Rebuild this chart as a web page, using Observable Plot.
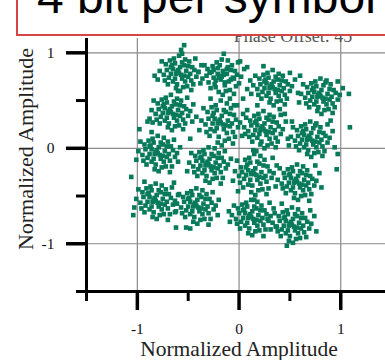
<!DOCTYPE html>
<html><head><meta charset="utf-8">
<script src="https://cdn.jsdelivr.net/npm/d3@7"></script>
<script src="https://cdn.jsdelivr.net/npm/@observablehq/plot@0.6"></script>
<style>
html,body{margin:0;padding:0;background:#fff;overflow:hidden;width:385px;height:360px;}
#wrap{position:relative;width:385px;height:360px;overflow:hidden;}
#wrap svg{position:absolute;left:0;top:0;}
#title{position:absolute;left:16px;top:-40px;width:420px;height:76px;box-sizing:border-box;border:2px solid #d64545;background:#fff;font-family:"Liberation Sans",Arial,sans-serif;font-size:48px;line-height:48px;padding-left:19px;padding-top:11px;color:#000;white-space:nowrap;z-index:2;}
</style></head><body><div id="wrap"><div id="title">4 bit per symbol</div></div>
<script>
const titleText = "4 bit per symbol";
const phaseNote = "Phase Offset: 45";
const axisTitle = "Normalized Amplitude";
const xDomain = [-1.5, 1.44];
const yDomain = [-1.5, 1.15];
const xMajor = [-1, 0, 1];
const xMinor = [-1.5, -0.5, 0.5];
const yMajor = [-1, 0, 1];
const yMinor = [-1.5, -0.5, 0.5];

const clusterA = [[-0.59,0.79],[-0.54,0.76],[-0.65,0.83],[-0.50,0.86],[-0.69,0.74],[-0.56,0.90],[-0.61,0.67],[-0.47,0.71],[-0.72,0.88],[-0.52,0.81],[-0.63,0.73],[-0.58,0.85],[-0.67,0.78],[-0.44,0.82],[-0.74,0.77],[-0.55,0.64],[-0.64,0.94],[-0.49,0.91],[-0.70,0.67],[-0.42,0.75],[-0.60,0.82],[-0.57,0.77],[-0.62,0.78],[-0.53,0.70],[-0.66,0.87],[-0.51,0.65],[-0.68,0.92],[-0.46,0.85],[-0.73,0.71],[-0.59,0.97],[-0.58,0.60],[-0.40,0.80],[-0.78,0.81],[-0.48,0.78],[-0.71,0.82],[-0.54,0.87],[-0.65,0.70],[-0.45,0.67],[-0.63,0.89],[-0.56,0.73],[-0.61,0.80],[-0.50,0.75],[-0.67,0.85],[-0.53,0.93],[-0.62,0.63],[-0.37,0.87],[-0.80,0.72],[-0.43,0.94],[-0.76,0.91],[-0.47,0.61],[-0.57,1.03],[-0.54,1.08],[-0.56,0.99],[-0.83,0.76]];
const clusterB = [[-0.17,0.75],[-0.12,0.78],[-0.23,0.71],[-0.08,0.82],[-0.27,0.80],[-0.14,0.66],[-0.19,0.87],[-0.05,0.73],[-0.30,0.69],[-0.10,0.70],[-0.21,0.78],[-0.16,0.81],[-0.25,0.74],[-0.02,0.77],[-0.32,0.76],[-0.13,0.60],[-0.22,0.90],[-0.07,0.87],[-0.28,0.63],[0.00,0.68],[-0.18,0.72],[-0.15,0.77],[-0.20,0.74],[-0.11,0.85],[-0.24,0.67],[-0.09,0.61],[-0.26,0.86],[-0.04,0.81],[-0.31,0.83],[-0.17,0.93],[-0.16,0.56],[0.02,0.75],[-0.36,0.73],[-0.06,0.74],[-0.29,0.79],[-0.12,0.83],[-0.23,0.64],[-0.03,0.65],[-0.21,0.84],[-0.14,0.69],[-0.19,0.76],[-0.08,0.72],[-0.25,0.82],[-0.11,0.92],[-0.20,0.59],[0.05,0.83],[-0.38,0.68],[-0.01,0.90],[-0.34,0.87],[-0.05,0.57],[-0.15,0.99],[0.08,0.62],[-0.40,0.80],[-0.09,0.52]];
const clusterC = [[0.33,0.64],[0.38,0.61],[0.27,0.68],[0.42,0.71],[0.23,0.59],[0.36,0.75],[0.31,0.52],[0.45,0.56],[0.20,0.73],[0.40,0.66],[0.29,0.58],[0.34,0.70],[0.25,0.63],[0.48,0.67],[0.18,0.62],[0.37,0.49],[0.28,0.79],[0.43,0.76],[0.22,0.52],[0.50,0.60],[0.32,0.67],[0.35,0.62],[0.30,0.63],[0.39,0.55],[0.26,0.72],[0.41,0.50],[0.24,0.77],[0.46,0.70],[0.19,0.56],[0.33,0.82],[0.34,0.45],[0.52,0.65],[0.14,0.66],[0.44,0.63],[0.21,0.67],[0.38,0.72],[0.27,0.55],[0.47,0.52],[0.29,0.74],[0.36,0.58],[0.31,0.65],[0.42,0.60],[0.25,0.70],[0.39,0.78],[0.30,0.48],[0.55,0.72],[0.12,0.57],[0.50,0.79],[0.16,0.76],[0.45,0.46],[0.11,0.71],[0.58,0.58],[0.24,0.86],[0.40,0.41]];
const clusterD = [[0.80,0.55],[0.85,0.52],[0.74,0.59],[0.89,0.62],[0.70,0.50],[0.83,0.66],[0.78,0.43],[0.92,0.47],[0.67,0.64],[0.87,0.57],[0.76,0.49],[0.81,0.61],[0.72,0.54],[0.95,0.58],[0.65,0.53],[0.84,0.40],[0.75,0.70],[0.90,0.67],[0.69,0.43],[0.97,0.51],[0.79,0.58],[0.82,0.53],[0.77,0.54],[0.86,0.46],[0.73,0.63],[0.88,0.41],[0.71,0.68],[0.93,0.61],[0.66,0.47],[0.80,0.73],[0.81,0.36],[0.99,0.56],[0.61,0.57],[0.91,0.54],[0.68,0.58],[0.85,0.69],[0.74,0.46],[0.94,0.43],[0.76,0.65],[0.83,0.49],[0.78,0.56],[0.89,0.51],[0.72,0.61],[0.86,0.71],[0.77,0.39],[1.02,0.63],[0.59,0.48],[0.97,0.70],[0.63,0.67],[0.92,0.37],[1.08,0.57],[1.09,0.22],[0.60,0.76]];
const clusterE = [[-0.67,0.38],[-0.62,0.35],[-0.73,0.42],[-0.58,0.45],[-0.77,0.33],[-0.64,0.49],[-0.69,0.26],[-0.55,0.30],[-0.80,0.47],[-0.60,0.40],[-0.71,0.32],[-0.66,0.44],[-0.75,0.37],[-0.52,0.41],[-0.82,0.36],[-0.63,0.23],[-0.72,0.53],[-0.57,0.50],[-0.78,0.26],[-0.50,0.34],[-0.68,0.41],[-0.65,0.36],[-0.70,0.37],[-0.61,0.29],[-0.74,0.46],[-0.59,0.24],[-0.76,0.51],[-0.54,0.44],[-0.81,0.30],[-0.67,0.56],[-0.66,0.19],[-0.48,0.39],[-0.86,0.40],[-0.56,0.37],[-0.79,0.41],[-0.62,0.46],[-0.73,0.29],[-0.53,0.26],[-0.71,0.48],[-0.64,0.32],[-0.69,0.39],[-0.58,0.34],[-0.75,0.44],[-0.61,0.52],[-0.70,0.22],[-0.45,0.46],[-0.88,0.31],[-0.51,0.53],[-0.84,0.50],[-0.55,0.20],[-0.90,0.28],[-0.60,0.60],[-0.46,0.28],[-0.85,0.27]];
const clusterF = [[-0.18,0.27],[-0.13,0.24],[-0.24,0.31],[-0.09,0.36],[-0.28,0.20],[-0.15,0.40],[-0.20,0.12],[-0.06,0.17],[-0.31,0.38],[-0.11,0.29],[-0.22,0.21],[-0.17,0.34],[-0.26,0.26],[-0.03,0.30],[-0.33,0.25],[-0.14,0.08],[-0.23,0.45],[-0.08,0.42],[-0.29,0.13],[-0.01,0.22],[-0.19,0.30],[-0.16,0.25],[-0.21,0.26],[-0.12,0.16],[-0.25,0.37],[-0.10,0.10],[-0.27,0.43],[-0.05,0.35],[-0.32,0.17],[-0.18,0.50],[-0.17,0.03],[0.01,0.27],[-0.37,0.29],[-0.07,0.26],[-0.30,0.31],[-0.13,0.38],[-0.24,0.18],[-0.04,0.12],[-0.22,0.40],[-0.15,0.20],[-0.20,0.28],[-0.09,0.23],[-0.26,0.34],[-0.12,0.47],[-0.21,0.06],[0.04,0.36],[-0.39,0.19],[-0.02,0.45],[-0.35,0.42],[-0.06,0.05],[-0.42,0.33],[0.06,0.15],[-0.28,0.52]];
const clusterG = [[0.24,0.20],[0.29,0.17],[0.18,0.24],[0.33,0.28],[0.14,0.14],[0.27,0.32],[0.22,0.07],[0.36,0.11],[0.11,0.29],[0.31,0.22],[0.20,0.15],[0.25,0.26],[0.16,0.19],[0.39,0.23],[0.09,0.18],[0.28,0.03],[0.19,0.36],[0.34,0.33],[0.13,0.07],[0.41,0.15],[0.23,0.23],[0.26,0.18],[0.21,0.19],[0.30,0.10],[0.17,0.29],[0.32,0.05],[0.15,0.34],[0.37,0.27],[0.10,0.12],[0.24,0.39],[0.25,0.00],[0.43,0.20],[0.05,0.22],[0.35,0.19],[0.12,0.24],[0.29,0.30],[0.18,0.11],[0.38,0.07],[0.20,0.31],[0.27,0.14],[0.22,0.21],[0.33,0.16],[0.16,0.27],[0.30,0.35],[0.21,0.04],[0.46,0.28],[0.03,0.13],[0.41,0.35],[0.07,0.32],[0.36,0.01],[0.48,0.10],[0.08,0.40],[0.14,-0.02],[0.18,0.45]];
const clusterH = [[0.70,0.10],[0.75,0.07],[0.64,0.14],[0.79,0.17],[0.60,0.05],[0.73,0.21],[0.68,-0.02],[0.82,0.02],[0.57,0.19],[0.77,0.12],[0.66,0.04],[0.71,0.16],[0.62,0.09],[0.85,0.13],[0.55,0.08],[0.74,-0.05],[0.65,0.25],[0.80,0.22],[0.59,-0.02],[0.87,0.06],[0.69,0.13],[0.72,0.08],[0.67,0.09],[0.76,0.01],[0.63,0.18],[0.78,-0.04],[0.61,0.23],[0.83,0.16],[0.56,0.02],[0.70,0.28],[0.71,-0.09],[0.89,0.11],[0.51,0.12],[0.81,0.09],[0.58,0.13],[0.75,0.24],[0.64,0.01],[0.84,-0.03],[0.66,0.20],[0.73,0.04],[0.68,0.11],[0.79,0.06],[0.62,0.16],[0.76,0.26],[0.67,-0.06],[0.92,0.18],[0.49,0.03],[0.87,0.25],[0.53,0.22],[0.82,-0.08],[0.94,0.01],[0.52,0.28],[0.90,0.29],[0.97,-0.06]];
const clusterI = [[-0.80,-0.05],[-0.75,-0.08],[-0.86,-0.01],[-0.71,0.02],[-0.90,-0.10],[-0.77,0.06],[-0.82,-0.17],[-0.68,-0.13],[-0.93,0.04],[-0.73,-0.03],[-0.84,-0.11],[-0.79,0.01],[-0.88,-0.06],[-0.65,-0.02],[-0.95,-0.07],[-0.76,-0.20],[-0.85,0.10],[-0.70,0.07],[-0.91,-0.17],[-0.63,-0.09],[-0.81,-0.02],[-0.78,-0.07],[-0.83,-0.06],[-0.74,-0.14],[-0.87,0.03],[-0.72,-0.19],[-0.89,0.08],[-0.67,0.02],[-0.94,-0.13],[-0.80,0.13],[-0.79,-0.24],[-0.61,-0.05],[-0.99,-0.03],[-0.69,-0.06],[-0.92,-0.01],[-0.75,0.04],[-0.86,-0.14],[-0.66,-0.19],[-0.84,0.06],[-0.77,-0.11],[-0.82,-0.04],[-0.71,-0.09],[-0.88,0.02],[-0.74,0.11],[-0.83,-0.22],[-0.58,0.01],[-1.01,-0.12],[-0.64,0.09],[-0.97,0.07],[-0.68,-0.25],[-0.86,0.17],[-0.60,-0.14]];
const clusterJ = [[-0.30,-0.17],[-0.25,-0.20],[-0.36,-0.13],[-0.21,-0.10],[-0.40,-0.22],[-0.27,-0.06],[-0.32,-0.29],[-0.18,-0.25],[-0.43,-0.08],[-0.23,-0.15],[-0.34,-0.23],[-0.29,-0.11],[-0.38,-0.18],[-0.15,-0.14],[-0.45,-0.19],[-0.26,-0.32],[-0.35,-0.02],[-0.20,-0.05],[-0.41,-0.29],[-0.13,-0.21],[-0.31,-0.14],[-0.28,-0.19],[-0.33,-0.18],[-0.24,-0.26],[-0.37,-0.09],[-0.22,-0.31],[-0.39,-0.04],[-0.17,-0.10],[-0.44,-0.25],[-0.30,0.01],[-0.29,-0.36],[-0.11,-0.17],[-0.49,-0.15],[-0.19,-0.18],[-0.42,-0.13],[-0.25,-0.08],[-0.36,-0.26],[-0.16,-0.31],[-0.34,-0.06],[-0.27,-0.23],[-0.32,-0.16],[-0.21,-0.21],[-0.38,-0.10],[-0.24,0.00],[-0.33,-0.34],[-0.08,-0.11],[-0.51,-0.24],[-0.14,-0.03],[-0.47,-0.05],[-0.18,-0.37]];
const clusterK = [[0.15,-0.27],[0.20,-0.30],[0.09,-0.23],[0.24,-0.18],[0.05,-0.32],[0.18,-0.14],[0.13,-0.39],[0.27,-0.35],[0.02,-0.20],[0.22,-0.25],[0.11,-0.33],[0.16,-0.21],[0.07,-0.28],[0.30,-0.24],[0.00,-0.29],[0.19,-0.44],[0.10,-0.10],[0.25,-0.12],[0.04,-0.41],[0.32,-0.31],[0.14,-0.24],[0.17,-0.28],[0.12,-0.27],[0.21,-0.37],[0.08,-0.17],[0.23,-0.43],[0.06,-0.12],[0.28,-0.19],[0.01,-0.36],[0.15,-0.06],[0.16,-0.49],[0.34,-0.26],[-0.04,-0.24],[0.26,-0.29],[0.03,-0.25],[0.20,-0.16],[0.09,-0.38],[0.29,-0.42],[0.11,-0.15],[0.18,-0.33],[0.13,-0.26],[0.24,-0.31],[0.07,-0.20],[0.21,-0.08],[0.12,-0.46],[0.37,-0.18],[-0.06,-0.34],[0.33,-0.10],[-0.02,-0.13],[0.27,-0.48],[0.17,-0.03],[0.15,-0.54]];
const clusterL = [[0.57,-0.35],[0.62,-0.38],[0.51,-0.31],[0.66,-0.28],[0.47,-0.40],[0.60,-0.24],[0.55,-0.47],[0.69,-0.43],[0.44,-0.26],[0.64,-0.33],[0.53,-0.41],[0.58,-0.29],[0.49,-0.36],[0.72,-0.32],[0.42,-0.37],[0.61,-0.50],[0.52,-0.20],[0.67,-0.23],[0.46,-0.47],[0.74,-0.39],[0.56,-0.32],[0.59,-0.37],[0.54,-0.36],[0.63,-0.44],[0.50,-0.27],[0.65,-0.49],[0.48,-0.22],[0.70,-0.29],[0.43,-0.42],[0.57,-0.17],[0.58,-0.54],[0.76,-0.34],[0.38,-0.33],[0.68,-0.36],[0.45,-0.31],[0.62,-0.26],[0.51,-0.44],[0.71,-0.48],[0.53,-0.24],[0.60,-0.41],[0.55,-0.34],[0.66,-0.39],[0.49,-0.28],[0.63,-0.19],[0.54,-0.52],[0.79,-0.26],[0.36,-0.40],[0.75,-0.18],[0.40,-0.21],[0.69,-0.55],[0.81,-0.41]];
const clusterM = [[-0.82,-0.55],[-0.77,-0.58],[-0.88,-0.51],[-0.73,-0.48],[-0.92,-0.60],[-0.79,-0.44],[-0.84,-0.67],[-0.70,-0.63],[-0.95,-0.46],[-0.75,-0.53],[-0.86,-0.61],[-0.81,-0.49],[-0.90,-0.56],[-0.67,-0.52],[-0.97,-0.57],[-0.78,-0.70],[-0.87,-0.40],[-0.72,-0.43],[-0.93,-0.67],[-0.65,-0.59],[-0.83,-0.52],[-0.80,-0.57],[-0.85,-0.56],[-0.76,-0.64],[-0.89,-0.47],[-0.74,-0.69],[-0.91,-0.42],[-0.69,-0.48],[-0.96,-0.63],[-0.82,-0.37],[-0.81,-0.74],[-0.63,-0.55],[-1.01,-0.53],[-0.71,-0.56],[-0.94,-0.51],[-0.77,-0.46],[-0.88,-0.64],[-0.68,-0.69],[-0.86,-0.44],[-0.79,-0.61],[-0.84,-0.54],[-0.73,-0.59],[-0.90,-0.48],[-0.76,-0.39],[-0.85,-0.72],[-0.60,-0.49],[-1.03,-0.62],[-0.66,-0.41],[-0.99,-0.43],[-0.70,-0.75],[-1.04,-0.70],[-0.62,-0.66],[-0.93,-0.35],[-0.64,-0.36]];
const clusterN = [[-0.42,-0.60],[-0.37,-0.63],[-0.48,-0.56],[-0.33,-0.53],[-0.52,-0.65],[-0.39,-0.49],[-0.44,-0.72],[-0.30,-0.68],[-0.55,-0.51],[-0.35,-0.58],[-0.46,-0.66],[-0.41,-0.54],[-0.50,-0.61],[-0.27,-0.57],[-0.57,-0.62],[-0.38,-0.75],[-0.47,-0.45],[-0.32,-0.48],[-0.53,-0.72],[-0.25,-0.64],[-0.43,-0.57],[-0.40,-0.62],[-0.45,-0.61],[-0.36,-0.69],[-0.49,-0.52],[-0.34,-0.74],[-0.51,-0.47],[-0.29,-0.53],[-0.56,-0.68],[-0.42,-0.42],[-0.41,-0.79],[-0.23,-0.60],[-0.61,-0.58],[-0.31,-0.61],[-0.54,-0.56],[-0.37,-0.51],[-0.48,-0.69],[-0.28,-0.74],[-0.46,-0.49],[-0.39,-0.66],[-0.44,-0.59],[-0.33,-0.64],[-0.50,-0.53],[-0.36,-0.44],[-0.45,-0.77],[-0.20,-0.54],[-0.63,-0.67],[-0.26,-0.46],[-0.59,-0.48],[-0.30,-0.80],[-0.48,-0.84],[-0.21,-0.70],[-0.52,-0.83]];
const clusterO = [[0.12,-0.72],[0.17,-0.75],[0.06,-0.68],[0.21,-0.65],[0.02,-0.77],[0.15,-0.61],[0.10,-0.84],[0.24,-0.80],[-0.01,-0.63],[0.19,-0.70],[0.08,-0.78],[0.13,-0.66],[0.04,-0.73],[0.27,-0.69],[-0.03,-0.74],[0.16,-0.87],[0.07,-0.57],[0.22,-0.60],[0.01,-0.84],[0.29,-0.76],[0.11,-0.69],[0.14,-0.74],[0.09,-0.73],[0.18,-0.81],[0.05,-0.64],[0.20,-0.86],[0.03,-0.59],[0.25,-0.65],[-0.02,-0.79],[0.12,-0.54],[0.13,-0.91],[0.31,-0.71],[-0.07,-0.70],[0.23,-0.73],[0.00,-0.68],[0.17,-0.63],[0.06,-0.81],[0.26,-0.85],[0.08,-0.61],[0.15,-0.78],[0.10,-0.71],[0.21,-0.76],[0.04,-0.65],[0.18,-0.56],[0.09,-0.89],[0.34,-0.63],[-0.09,-0.77],[0.30,-0.57],[-0.05,-0.60],[0.24,-0.92],[-0.10,-0.66],[0.36,-0.82]];
const clusterP = [[0.52,-0.80],[0.57,-0.83],[0.46,-0.76],[0.61,-0.73],[0.42,-0.85],[0.55,-0.69],[0.50,-0.92],[0.64,-0.88],[0.39,-0.71],[0.59,-0.78],[0.48,-0.86],[0.53,-0.74],[0.44,-0.81],[0.67,-0.77],[0.37,-0.82],[0.56,-0.95],[0.47,-0.65],[0.62,-0.68],[0.41,-0.92],[0.69,-0.84],[0.51,-0.77],[0.54,-0.82],[0.49,-0.81],[0.58,-0.89],[0.45,-0.72],[0.60,-0.94],[0.43,-0.67],[0.65,-0.73],[0.38,-0.87],[0.52,-0.62],[0.53,-0.99],[0.71,-0.79],[0.33,-0.78],[0.63,-0.81],[0.40,-0.76],[0.57,-0.71],[0.46,-0.89],[0.66,-0.93],[0.48,-0.69],[0.55,-0.86],[0.50,-0.79],[0.61,-0.84],[0.44,-0.73],[0.58,-0.64],[0.49,-0.97],[0.74,-0.71],[0.31,-0.85],[0.70,-0.65],[0.35,-0.68],[0.47,-1.02],[0.76,-0.87],[0.28,-0.74]];
const strays = [[0.08,0.85],[0.01,0.91],[-0.05,0.45],[0.04,0.52],[-0.48,0.10],[0.45,0.36],[-0.98,0.20],[0.96,-0.22],[-0.62,-0.83],[-0.01,-0.45],[0.42,-0.58],[-1.06,-0.30]];

const green = "#077a5b";
const points = [clusterA, clusterB, clusterC, clusterD, clusterE, clusterF, clusterG, clusterH,
  clusterI, clusterJ, clusterK, clusterL, clusterM, clusterN, clusterO, clusterP, strays]
  .flat().map(([x, y]) => ({x, y}));

const serif = '"Liberation Serif", "Times New Roman", Times, serif';
const chart = Plot.plot({
  width: 385, height: 360,
  marginLeft: 86, marginRight: 0, marginTop: 38, marginBottom: 69,
  x: {domain: xDomain, label: null},
  y: {domain: yDomain, label: null},
  style: {fontFamily: serif, fontSize: "15px", color: "#111", background: "white", overflow: "visible"},
  marks: [
    Plot.gridX({ticks: xMajor, stroke: "#8a8a8a", strokeOpacity: 1, strokeWidth: 1.2}),
    Plot.gridY({ticks: yMajor, stroke: "#8a8a8a", strokeOpacity: 1, strokeWidth: 1.2}),
    Plot.dot(points, {x: "x", y: "y", symbol: "square", r: 2.6, fill: green, stroke: null}),
    Plot.text([phaseNote], {frameAnchor: "top", dx: 57, dy: -2, lineAnchor: "middle", fontSize: 18, fill: "#555"}),
    Plot.ruleX([xDomain[0]], {stroke: "#000", strokeWidth: 3}),
    Plot.ruleY([yDomain[0]], {stroke: "#000", strokeWidth: 3}),
    Plot.axisX({ticks: xMajor, tickSize: 19, tickPadding: 12, strokeWidth: 3.5, stroke: "#000", tickFormat: d => String(d), label: null, fill: "#111", fontSize: 15.5}),
    Plot.axisX({ticks: xMinor, tickSize: 10, strokeWidth: 3, stroke: "#000", tickFormat: () => "", label: null}),
    Plot.axisY({ticks: yMajor, tickSize: 20, tickPadding: 12, strokeWidth: 3.5, stroke: "#000", tickFormat: d => String(d), label: null, fill: "#111", fontSize: 15.5}),
    Plot.axisY({ticks: yMinor, tickSize: 10, strokeWidth: 3, stroke: "#000", tickFormat: () => "", label: null}),
    Plot.text([axisTitle], {frameAnchor: "bottom", dx: 3, dy: 58, lineAnchor: "middle", fontSize: 21.5, fill: "#222"}),
    Plot.text([axisTitle], {frameAnchor: "left", rotate: -90, dx: -61, dy: -16, textAnchor: "middle", lineAnchor: "middle", fontSize: 22, fill: "#222"})
  ]
});
const wrap = document.getElementById("wrap");
wrap.insertBefore(chart, document.getElementById("title"));
document.getElementById("title").textContent = titleText;
</script>
</body></html>
